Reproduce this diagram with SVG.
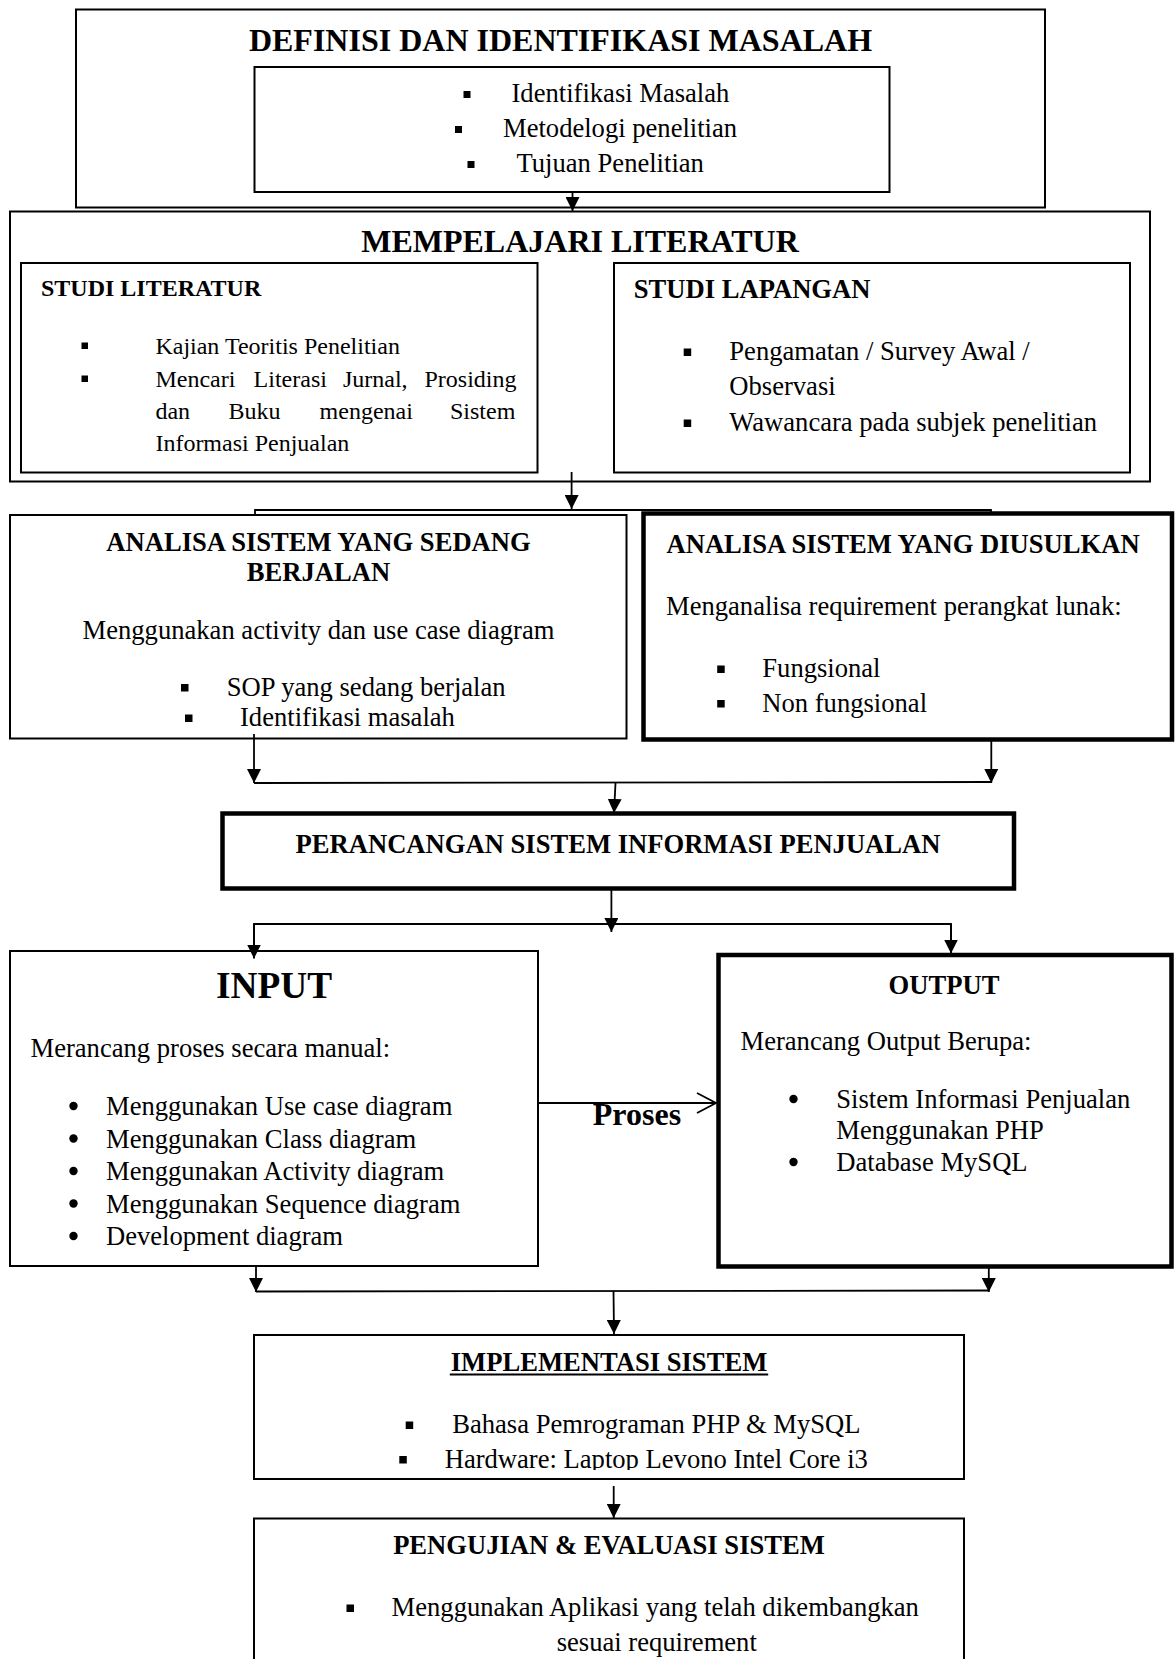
<svg xmlns="http://www.w3.org/2000/svg" width="1176" height="1659" viewBox="0 0 1176 1659">
<style>
text{font-family:"Liberation Serif","Times New Roman",serif;fill:#000}
.t32{font-size:32px;font-weight:bold}
.hb{font-size:26.6px;font-weight:bold}
.b{font-size:26.6px}
.s{font-size:24px}
.sb{font-size:24px;font-weight:bold}
.box{fill:#fff;stroke:#000;stroke-width:2}
.thick{fill:#fff;stroke:#000;stroke-width:4.5}
.c{fill:none;stroke:#000;stroke-width:1.8}
.sq{fill:#000}
</style>
<defs>
<marker id="ah" markerUnits="userSpaceOnUse" markerWidth="14" markerHeight="14" refX="14" refY="7" orient="auto">
<path d="M0,0 L14,7 L0,14 z" fill="#000"/>
</marker>
<marker id="open" markerUnits="userSpaceOnUse" markerWidth="22" markerHeight="24" refX="20" refY="12" orient="auto">
<path d="M1,2 L20,12 L1,22" fill="none" stroke="#000" stroke-width="1.8"/>
</marker>
<clipPath id="clipImpl"><rect x="254" y="1335" width="710" height="135"/></clipPath>
</defs>

<g id="definisi">
<rect class="box" x="76" y="9.5" width="969" height="198"/>
<text class="t32" x="560.5" y="51" text-anchor="middle">DEFINISI DAN IDENTIFIKASI MASALAH</text>
<rect class="box" x="254.5" y="67" width="635" height="125"/>
<rect class="sq" x="463.5" y="91" width="7" height="7"/>
<text class="b" x="511.5" y="102">Identifikasi Masalah</text>
<rect class="sq" x="455" y="126" width="7" height="7"/>
<text class="b" x="503" y="137">Metodelogi penelitian</text>
<rect class="sq" x="467.5" y="161" width="7" height="7"/>
<text class="b" x="516.5" y="172">Tujuan Penelitian</text>
</g>

<g id="literatur">
<rect class="box" x="10" y="211.5" width="1140" height="270"/>
<text class="t32" x="580" y="252" text-anchor="middle">MEMPELAJARI LITERATUR</text>
</g>

<g id="studi-literatur">
<rect class="box" x="21" y="263" width="516.5" height="209.5"/>
<text class="sb" x="41" y="296">STUDI LITERATUR</text>
<rect class="sq" x="81.5" y="342.5" width="6.5" height="6.5"/>
<text class="s" x="155.4" y="354">Kajian Teoritis Penelitian</text>
<rect class="sq" x="81.5" y="375.5" width="6.5" height="6.5"/>
<text class="s" y="387"><tspan x="155.4">Mencari</tspan><tspan x="253.6">Literasi</tspan><tspan x="342.9">Jurnal,</tspan><tspan x="424.5">Prosiding</tspan></text>
<text class="s" y="419"><tspan x="155.4">dan</tspan><tspan x="228.6">Buku</tspan><tspan x="319.6">mengenai</tspan><tspan x="450">Sistem</tspan></text>
<text class="s" x="155.4" y="451">Informasi Penjualan</text>
</g>

<g id="studi-lapangan">
<rect class="box" x="614" y="263" width="516" height="209.5"/>
<text class="hb" x="633.8" y="298">STUDI LAPANGAN</text>
<rect class="sq" x="683.7" y="348.5" width="7.5" height="7.5"/>
<text class="b" x="729.3" y="360">Pengamatan / Survey Awal /</text>
<text class="b" x="729.3" y="395">Observasi</text>
<rect class="sq" x="683.7" y="419.5" width="7.5" height="7.5"/>
<text class="b" x="729.3" y="431">Wawancara pada subjek penelitian</text>
</g>

<g id="analisa-berjalan">
<rect class="box" x="10" y="515" width="616.5" height="223.5"/>
<text class="hb" x="318.5" y="551" text-anchor="middle">ANALISA SISTEM YANG SEDANG</text>
<text class="hb" x="318.5" y="581" text-anchor="middle">BERJALAN</text>
<text class="b" x="318.5" y="639" text-anchor="middle">Menggunakan activity dan use case diagram</text>
<rect class="sq" x="181" y="684" width="7.5" height="7.5"/>
<text class="b" x="226.7" y="696">SOP yang sedang berjalan</text>
<rect class="sq" x="185" y="714.5" width="7.5" height="7.5"/>
<text class="b" x="240" y="726">Identifikasi masalah</text>
</g>

<g id="analisa-diusulkan">
<rect class="thick" x="643.5" y="513.5" width="528.5" height="226"/>
<text class="hb" x="666.5" y="553">ANALISA SISTEM YANG DIUSULKAN</text>
<text class="b" x="666" y="615">Menganalisa requirement perangkat lunak:</text>
<rect class="sq" x="717.2" y="665.5" width="7.5" height="7.5"/>
<text class="b" x="762.3" y="677">Fungsional</text>
<rect class="sq" x="717.2" y="700" width="7.5" height="7.5"/>
<text class="b" x="762.3" y="711.5">Non fungsional</text>
</g>

<g id="perancangan">
<rect class="thick" x="222.5" y="813.5" width="791.5" height="75"/>
<text class="hb" x="618" y="853" text-anchor="middle">PERANCANGAN SISTEM INFORMASI PENJUALAN</text>
</g>

<g id="input">
<rect class="box" x="10" y="951" width="528" height="315"/>
<text x="274" y="997.5" text-anchor="middle" style="font-size:37.3px;font-weight:bold">INPUT</text>
<text class="b" x="30.5" y="1057">Merancang proses secara manual:</text>
<circle cx="73.5" cy="1106" r="4.2"/>
<text class="b" x="106" y="1115">Menggunakan Use case diagram</text>
<circle cx="73.5" cy="1138.5" r="4.2"/>
<text class="b" x="106" y="1147.5">Menggunakan Class diagram</text>
<circle cx="73.5" cy="1171" r="4.2"/>
<text class="b" x="106" y="1180">Menggunakan Activity diagram</text>
<circle cx="73.5" cy="1203.5" r="4.2"/>
<text class="b" x="106" y="1212.5">Menggunakan Sequence diagram</text>
<circle cx="73.5" cy="1236" r="4.2"/>
<text class="b" x="106" y="1245">Development diagram</text>
</g>

<g id="output">
<rect class="thick" x="718.5" y="955" width="453" height="311.5"/>
<text class="hb" x="944" y="994" text-anchor="middle">OUTPUT</text>
<text class="b" x="740.5" y="1050">Merancang Output Berupa:</text>
<circle cx="793.5" cy="1099" r="4.2"/>
<text class="b" x="836.3" y="1108">Sistem Informasi Penjualan</text>
<text class="b" x="836.3" y="1138.5">Menggunakan PHP</text>
<circle cx="793.5" cy="1162" r="4.2"/>
<text class="b" x="836.3" y="1171">Database MySQL</text>
</g>

<g id="implementasi">
<rect class="box" x="254" y="1335" width="710" height="144"/>
<text class="hb" x="609" y="1371" text-anchor="middle">IMPLEMENTASI SISTEM</text>
<line x1="449.8" y1="1374.5" x2="768.2" y2="1374.5" stroke="#000" stroke-width="2"/>
<rect class="sq" x="405.7" y="1421.5" width="7.5" height="7.5"/>
<text class="b" x="452.2" y="1433">Bahasa Pemrograman PHP &amp; MySQL</text>
<g clip-path="url(#clipImpl)">
<rect class="sq" x="399.3" y="1456" width="7.5" height="7.5"/>
<text class="b" x="444.7" y="1467.5">Hardware: Laptop Levono Intel Core i3</text>
</g>
</g>

<g id="pengujian">
<rect class="box" x="254" y="1518.5" width="710" height="150"/>
<text class="hb" x="609" y="1554" text-anchor="middle">PENGUJIAN &amp; EVALUASI SISTEM</text>
<rect class="sq" x="346.5" y="1604.5" width="7.5" height="7.5"/>
<text class="b" x="391.6" y="1616">Menggunakan Aplikasi yang telah dikembangkan</text>
<text class="b" x="556.7" y="1651">sesuai requirement</text>
</g>

<g id="connectors">
<line class="c" x1="572.5" y1="192" x2="572.5" y2="211" marker-end="url(#ah)"/>
<line class="c" x1="571.6" y1="472" x2="571.6" y2="509" marker-end="url(#ah)"/>
<polyline class="c" points="255,516 255,510 991,510 991,514"/>
<line class="c" x1="254" y1="734" x2="254" y2="783" marker-end="url(#ah)"/>
<line class="c" x1="991.3" y1="739" x2="991.3" y2="783" marker-end="url(#ah)"/>
<line class="c" x1="254" y1="783" x2="991.3" y2="782"/>
<line class="c" x1="615.5" y1="783" x2="614" y2="813" marker-end="url(#ah)"/>
<line class="c" x1="611.4" y1="888" x2="611.4" y2="932" marker-end="url(#ah)"/>
<polyline class="c" points="254,958 254,924 951,924 951,953" fill="none"/>
<line class="c" x1="254" y1="924" x2="254" y2="958.5" marker-end="url(#ah)"/>
<line class="c" x1="951" y1="924" x2="951" y2="953.5" marker-end="url(#ah)"/>
<line class="c" x1="538" y1="1103" x2="716" y2="1103" marker-end="url(#open)"/>
<text class="t32" x="592.8" y="1125">Proses</text>
<line class="c" x1="256" y1="1266" x2="256" y2="1292" marker-end="url(#ah)"/>
<line class="c" x1="988.8" y1="1266" x2="988.8" y2="1292" marker-end="url(#ah)"/>
<line class="c" x1="256" y1="1291.5" x2="988.8" y2="1290.5"/>
<line class="c" x1="613.5" y1="1291" x2="614" y2="1334" marker-end="url(#ah)"/>
<line class="c" x1="613.7" y1="1486" x2="613.7" y2="1518" marker-end="url(#ah)"/>
</g>
</svg>
